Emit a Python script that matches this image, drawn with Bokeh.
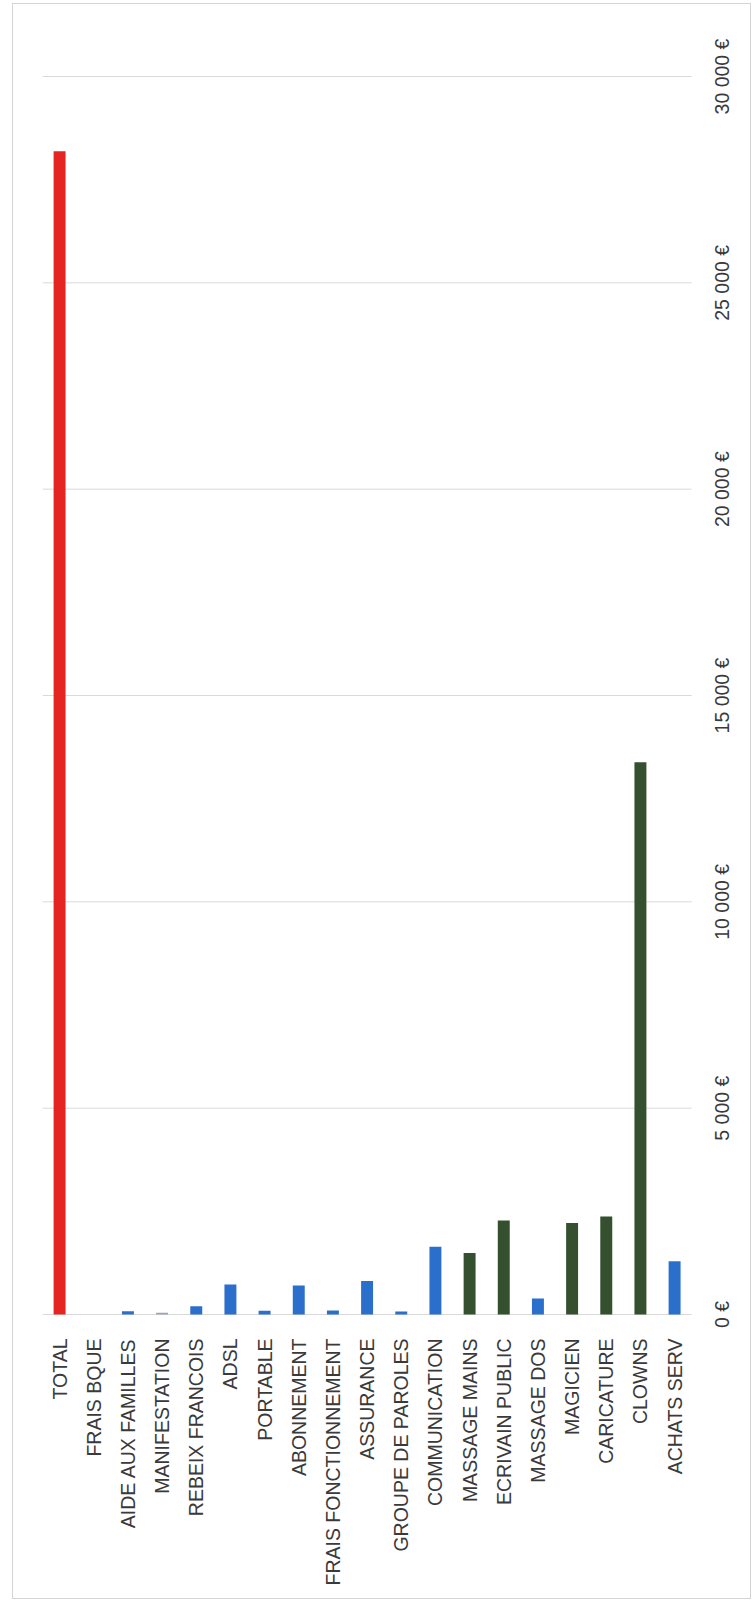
import math
from bokeh.plotting import figure
from bokeh.models import ColumnDataSource, Range1d, FixedTicker
from bokeh.core.properties import value
from bokeh.transform import factor_cmap
from bokeh.embed import file_html
from bokeh.resources import INLINE

categories = ["TOTAL", "FRAIS BQUE", "AIDE AUX FAMILLES", "MANIFESTATION",
              "REBEIX FRANCOIS", "ADSL", "PORTABLE", "ABONNEMENT",
              "FRAIS FONCTIONNEMENT", "ASSURANCE", "GROUPE DE PAROLES",
              "COMMUNICATION", "MASSAGE MAINS", "ECRIVAIN PUBLIC",
              "MASSAGE DOS", "MAGICIEN", "CARICATURE", "CLOWNS", "ACHATS SERV"]
values = [28190, 0, 80, 40, 200, 730, 90, 700, 100, 810, 70,
          1640, 1490, 2280, 385, 2220, 2375, 13380, 1290]
groups = ["total", "charges", "charges", "manif", "charges", "charges",
          "charges", "charges", "charges", "charges", "charges",
          "charges", "animation", "animation", "charges", "animation",
          "animation", "animation", "charges"]
tick_values = [0, 5000, 10000, 15000, 20000, 25000, 30000]
tick_labels = ["0 €", "5 000 €", "10 000 €", "15 000 €", "20 000 €", "25 000 €", "30 000 €"]

group_factors = ["total", "charges", "manif", "animation"]
group_colors = ["#e52521", "#2b6fcc", "#9aa6b4", "#34502f"]

n = len(categories)
idx = list(range(n))
source = ColumnDataSource(dict(i=idx, cat=categories, val=values, grp=groups))
tick_source = ColumnDataSource(dict(v=tick_values, t=tick_labels))

FONT = "Liberation Sans"
TXT = "#3a3a3a"

# category slots from -0.5 to n-0.5; extra room right/top/bottom for value labels
p = figure(width=739, height=1596, x_range=Range1d(-0.5, n - 0.5 + 1.78),
           y_range=Range1d(-436, 31163),
           output_backend="svg", toolbar_location=None,
           min_border_left=29, min_border_right=0,
           min_border_top=24, min_border_bottom=268)

p.xgrid.grid_line_color = None
p.ygrid.grid_line_color = None

# value gridlines (and zero baseline) limited to the category area
p.segment(x0=-0.5, x1=n - 0.5, y0="v", y1="v", source=tick_source,
          line_color="#d9d9d9", line_width=1)

p.vbar(x="i", top="val", bottom=0, width=0.35, source=source, line_color=None,
       fill_color=factor_cmap("grp", group_colors, group_factors))

# value labels on the right, reading bottom-to-top
p.text(x=n - 0.5 + 0.9, y="v", text="t", source=tick_source, angle=math.pi / 2,
       text_align="center", text_baseline="middle",
       text_font=value(FONT), text_font_size="19.5px", text_color=TXT)

p.outline_line_color = None
p.background_fill_color = "white"
p.border_fill_color = "white"
p.styles = {"border": "1px solid #d4d4d4", "margin-left": "12px", "margin-top": "3px"}

xa = p.xaxis[0]
xa.ticker = FixedTicker(ticks=idx)
xa.major_label_overrides = {i: c for i, c in zip(idx, categories)}
xa.axis_line_color = None
xa.major_tick_line_color = None
xa.major_tick_in = 0
xa.major_tick_out = 0
xa.minor_tick_line_color = None
xa.major_label_orientation = math.pi / 2
xa.major_label_standoff = 6
xa.major_label_text_font = FONT
xa.major_label_text_font_size = "19.5px"
xa.major_label_text_color = TXT

p.yaxis.visible = False

open("out.html", "w").write(file_html(p, INLINE))
